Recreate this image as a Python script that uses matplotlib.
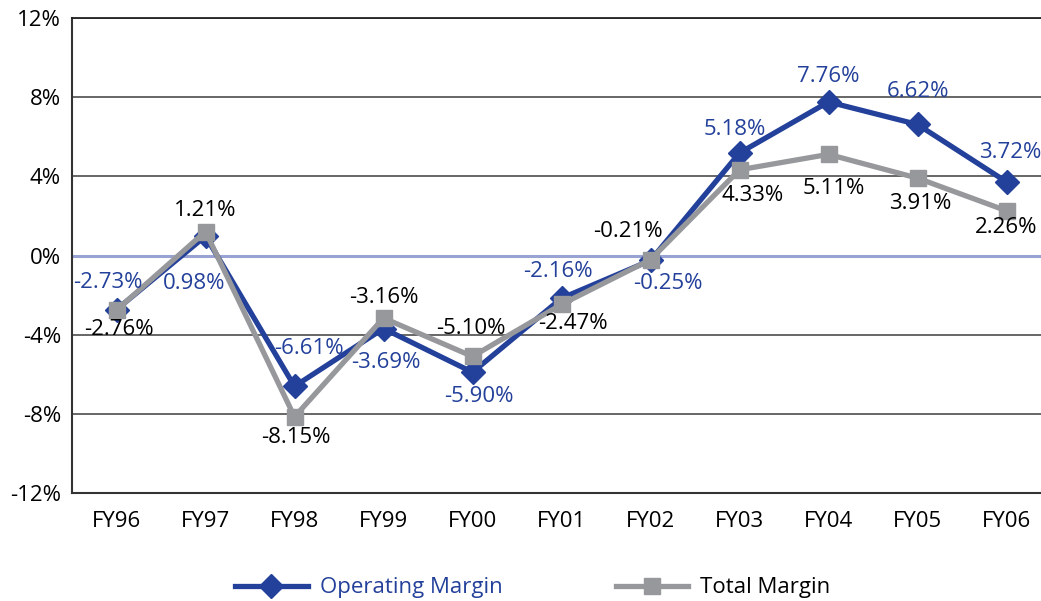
import matplotlib
matplotlib.use("Agg")
import matplotlib.pyplot as plt
from matplotlib.ticker import FixedLocator

plt.rcParams['font.family'] = ['Open Sans', 'DejaVu Sans']

years = ["FY96", "FY97", "FY98", "FY99", "FY00", "FY01", "FY02", "FY03", "FY04", "FY05", "FY06"]
operating_margin = [-2.73, 0.98, -6.61, -3.69, -5.90, -2.16, -0.25, 5.18, 7.76, 6.62, 3.72]
total_margin = [-2.76, 1.21, -8.15, -3.16, -5.10, -2.47, -0.21, 4.33, 5.11, 3.91, 2.26]
y_ticks = [-12, -8, -4, 0, 4, 8, 12]

BLUE = "#23409a"
GRAY = "#97989b"
GRID = "#5a5a5a"
FS = 16

# label offsets in pixels (dx, dy) relative to each point
op_offsets = [(-9, 27), (-11, -47), (14, 38), (2, -34), (6, -24), (-4, 27),
              (17, -23), (-5, 23), (0, 25), (0, 33), (4, 29)]
tot_offsets = [(2, -19), (0, 21), (1, -21), (0, 21), (-2, 28), (11, -19),
               (-23, 28), (13, -26), (5, -34), (3, -25), (0, -17)]

W, H = 1041, 601
fig = plt.figure(figsize=(W / 100, H / 100), dpi=100)
left, right, top, bottom = 72, 1041, 18, 493
ax = fig.add_axes([left / W, 1 - bottom / H, (right - left) / W, (bottom - top) / H])

x = list(range(len(years)))
ax.set_xlim(-0.5, -0.5 + (right - left) / 89.0)
ax.set_ylim(-12, 12)

for t in y_ticks:
    if t == 0:
        ax.axhline(t, color="#98a3d4", lw=2.2, zorder=1)
    elif t != -12:
        ax.axhline(t, color=GRID, lw=1.3, zorder=1)

ax.plot(x, operating_margin, color=BLUE, lw=3.8, marker="D", markersize=12,
        markeredgecolor=BLUE, zorder=3, label="Operating Margin")
ax.plot(x, total_margin, color=GRAY, lw=3.8, marker="s", markersize=11,
        markeredgecolor=GRAY, zorder=4, label="Total Margin")

for xi, v, (dx, dy) in zip(x, operating_margin, op_offsets):
    ax.annotate(f"{v:.2f}%", (xi, v), xytext=(dx, dy), textcoords="offset pixels",
                ha="center", va="center", color=BLUE, fontsize=FS, zorder=5)
for xi, v, (dx, dy) in zip(x, total_margin, tot_offsets):
    ax.annotate(f"{v:.2f}%", (xi, v), xytext=(dx, dy), textcoords="offset pixels",
                ha="center", va="center", color="black", fontsize=FS, zorder=5)

ax.set_xticks(x)
ax.set_xticklabels(years, fontsize=FS)
ax.yaxis.set_major_locator(FixedLocator(y_ticks))
ax.set_yticklabels([f"{t}%" for t in y_ticks], fontsize=FS)
ax.tick_params(axis="both", length=0)
ax.tick_params(axis="x", pad=13)
ax.tick_params(axis="y", pad=8)

ax.spines["right"].set_visible(False)
ax.spines["top"].set_color("#222222")
ax.spines["top"].set_linewidth(1.3)
ax.spines["left"].set_color("#333333")
ax.spines["left"].set_linewidth(1.5)
ax.spines["bottom"].set_color("#333333")
ax.spines["bottom"].set_linewidth(1.5)

leg = fig.legend(loc="center", bbox_to_anchor=(0.512, 1 - 588 / H), ncol=2, frameon=False,
                 fontsize=FS, handlelength=3.25, handletextpad=0.55, columnspacing=5.1)
for txt, col in zip(leg.get_texts(), [BLUE, "black"]):
    txt.set_color(col)

fig.savefig("out.png", dpi=100)
